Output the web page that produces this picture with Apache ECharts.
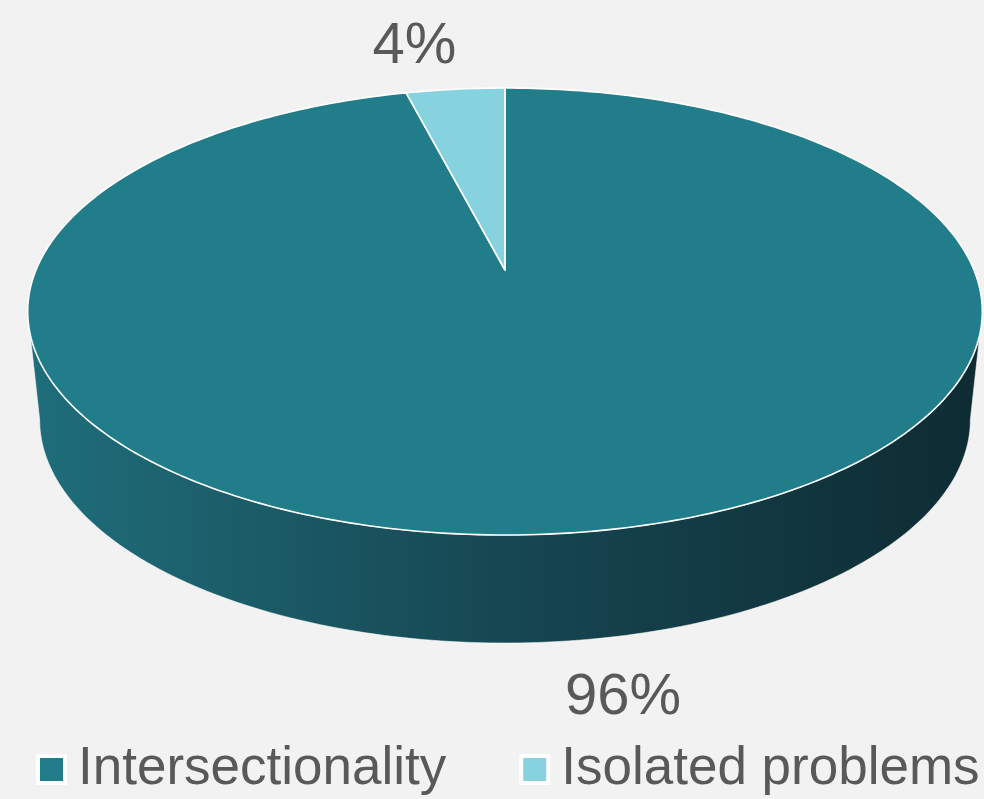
<!DOCTYPE html>
<html>
<head>
<meta charset="utf-8">
<script src="https://cdn.jsdelivr.net/npm/echarts@6/dist/echarts.min.js"></script>
<style>
  html, body { margin: 0; padding: 0; background: #f2f2f2; }
  #chart { width: 984px; height: 799px; }
</style>
</head>
<body>
<div id="chart"></div>
<script>
// Share of responses by category
const categories = ['Intersectionality', 'Isolated problems'];
const values = [96, 4];
const sliceColors = ['#227d8b', '#86d3df'];

// Perspective disk geometry (pixels)
const geo = {
  cx: 505,      // projected centre x
  cy: 270,      // projected centre y
  a: 469,       // horizontal radius factor
  c: 165.66,    // vertical radius factor
  e: -0.1857,   // perspective term
  depth: 108,   // thickness of the disk
  bottomScale: 0.975
};
const labelNudge = [[46, 58], [-41, -42]];
const fontFamily = '"Liberation Sans", Arial, sans-serif';

const total = values.reduce((s, v) => s + v, 0);
const starts = [];
values.reduce((acc, v, i) => { starts[i] = acc; return acc + v; }, 0);

const DEG = Math.PI / 180;
function project(r, t) {
  const s = Math.sin(t), c = Math.cos(t);
  const w = 1 + geo.e * r * s;
  return [geo.cx + geo.a * r * c / w, (geo.cy + geo.c * r * s) / w];
}
function projectBottom(r, t) {
  const p = project(r, t);
  return [geo.cx + (p[0] - geo.cx) * geo.bottomScale, p[1] + geo.depth];
}
function arcPoints(fn, t0, t1, steps) {
  const pts = [];
  for (let k = 0; k <= steps; k++) {
    pts.push(fn(1, t0 + (t1 - t0) * k / steps));
  }
  return pts;
}

// visible front band of the cylinder wall, between the silhouette points
const sEdge = Math.asin(-geo.e);
const frontFrom = sEdge, frontTo = Math.PI - sEdge;

const sideGradient = new echarts.graphic.LinearGradient(28, 0, 982, 0, [
  { offset: 0, color: '#1f6e7b' },
  { offset: 0.5, color: '#164752' },
  { offset: 1, color: '#0e2b32' }
], true);

function renderSlice(params, api) {
  const start = api.value(0), val = api.value(1);
  // slices run clockwise from 12 o'clock
  const t0 = -Math.PI / 2 + start / total * 2 * Math.PI;
  const t1 = t0 + val / total * 2 * Math.PI;
  const idx = api.value(2);
  const children = [];

  // wall segments for the part of the slice on the front band
  [0, 2 * Math.PI, -2 * Math.PI].forEach(shift => {
    const a0 = Math.max(t0 + shift, frontFrom);
    const a1 = Math.min(t1 + shift, frontTo);
    if (a1 > a0) {
      const steps = Math.max(4, Math.ceil((a1 - a0) / DEG));
      const top = arcPoints(project, a0, a1, steps);
      const bot = arcPoints(projectBottom, a0, a1, steps).reverse();
      children.push({
        type: 'polygon',
        shape: { points: top.concat(bot) },
        style: { fill: sideGradient, stroke: 'rgba(255,255,255,0.55)', lineWidth: 1 },
        z2: 1
      });
    }
  });

  // top face
  const steps = Math.max(4, Math.ceil((t1 - t0) / DEG));
  const pts = [project(0, 0)].concat(arcPoints(project, t0, t1, steps));
  children.push({
    type: 'polygon',
    shape: { points: pts },
    style: { fill: sliceColors[idx], stroke: '#ffffff', lineWidth: 1.6, lineJoin: 'round' },
    z2: 2
  });

  // percentage label outside the slice
  const mid = (t0 + t1) / 2;
  const base = project(1, mid);
  let depthShift = Math.sin(mid) > 0 ? geo.depth : 0;
  children.push({
    type: 'text',
    x: base[0] + labelNudge[idx][0],
    y: base[1] + depthShift + labelNudge[idx][1],
    style: {
      text: Math.round(val / total * 100) + '%',
      fill: '#595959',
      font: '58px ' + fontFamily,
      align: 'center',
      verticalAlign: 'middle'
    },
    z2: 3
  });

  return { type: 'group', children: children };
}

const chart = echarts.init(document.getElementById('chart'), null, { renderer: 'canvas' });
chart.setOption({
  backgroundColor: '#f2f2f2',
  animation: false,
  legend: {
    data: categories,
    left: 36,
    top: 743,
    width: 984,
    padding: 0,
    itemWidth: 27,
    itemHeight: 27,
    itemGap: 73,
    icon: 'rect',
    itemStyle: { borderColor: '#ffffff', borderWidth: 4 },
    textStyle: { color: '#595959', fontSize: 53, fontFamily: fontFamily, padding: [0, 0, 0, 8] }
  },
  series: categories.map((name, i) => ({
    type: 'custom',
    name: name,
    coordinateSystem: 'none',
    itemStyle: { color: sliceColors[i] },
    renderItem: renderSlice,
    data: [[starts[i], values[i], i]]
  }))
});
</script>
</body>
</html>
